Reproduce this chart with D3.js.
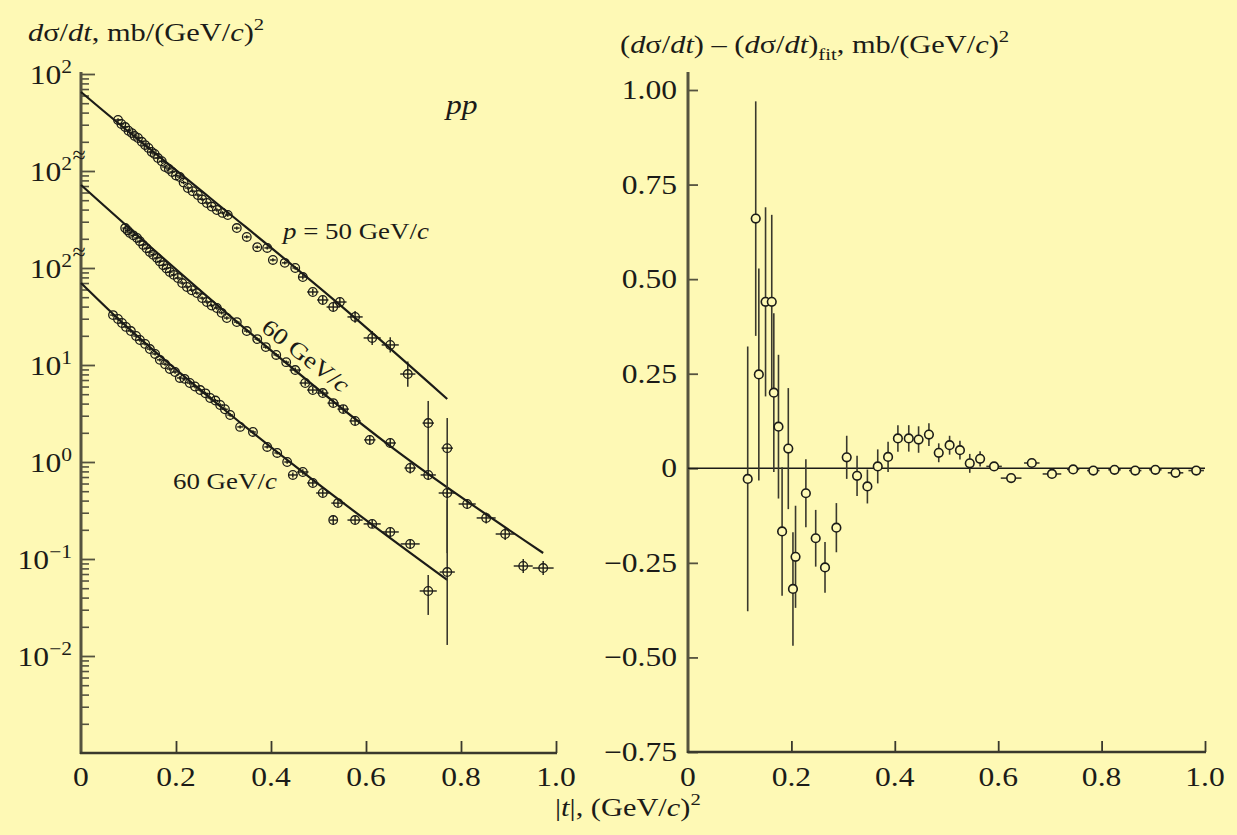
<!DOCTYPE html>
<html><head><meta charset="utf-8">
<script src="https://cdn.jsdelivr.net/npm/d3@7"></script>
<style>body{margin:0;background:#fef9b5;} svg{display:block}</style>
</head><body>
<svg id="c" width="1237" height="835"></svg>
<script>
// ---------------- DATA ----------------
// p = 50 GeV/c (plotted x100)
const topT = [0.078,0.085,0.093,0.100,0.107,0.113,0.120,0.128,0.135,0.142,0.149,0.155,0.162,0.170,0.177,0.185,0.192,0.200,0.208,0.216,0.225,0.235,0.246,0.255,0.265,0.275,0.286,0.298,0.309,0.328,0.349,0.371,0.392,0.404,0.429,0.451,0.467,0.488,0.509,0.531,0.545,0.577,0.613,0.651,0.688];
const topV = [33.6,30.5,28.4,26.0,24.6,23.0,21.9,20.0,18.5,17.3,15.7,15.0,13.6,12.6,11.0,10.5,9.77,9.0,8.67,7.6,6.68,6.2,5.66,5.1,4.68,4.3,3.96,3.70,3.52,2.58,2.09,1.64,1.61,1.21,1.13,1.00,0.807,0.566,0.468,0.396,0.446,0.313,0.190,0.161,0.0807];
const topErr = [0.04,0.04,0.04,0.04,0.04,0.04,0.04,0.04,0.04,0.04,0.04,0.04,0.04,0.04,0.04,0.04,0.04,0.04,0.04,0.04,0.04,0.04,0.04,0.04,0.04,0.04,0.04,0.04,0.04,0.04,0.04,0.04,0.04,0.04,0.04,0.04,0.06,0.08,0.10,0.10,0.12,0.15,0.18,0.20,0.35];
const topDt = [0.006,0.006,0.006,0.006,0.006,0.006,0.006,0.006,0.006,0.006,0.006,0.006,0.006,0.006,0.006,0.006,0.006,0.006,0.006,0.006,0.006,0.006,0.006,0.006,0.006,0.006,0.006,0.006,0.006,0.006,0.006,0.006,0.006,0.006,0.006,0.006,0.010,0.012,0.012,0.014,0.014,0.016,0.018,0.018,0.016];
// 60 GeV/c (plotted x10)
const midT = [0.093,0.098,0.103,0.110,0.118,0.124,0.131,0.138,0.145,0.152,0.160,0.166,0.173,0.180,0.187,0.195,0.204,0.213,0.223,0.233,0.244,0.255,0.265,0.275,0.286,0.296,0.307,0.328,0.349,0.371,0.389,0.411,0.432,0.451,0.472,0.488,0.509,0.531,0.552,0.577,0.608,0.651,0.693,0.731,0.731,0.771,0.771,0.813,0.853,0.893,0.931,0.973];
const midV = [25.8,24.4,23.0,21.7,20.4,18.9,17.3,16.0,14.6,13.7,12.7,11.7,10.7,9.9,9.10,8.5,7.89,7.0,6.37,5.9,5.52,4.9,4.46,4.1,3.87,3.45,3.05,2.77,2.24,1.85,1.53,1.27,1.07,0.887,0.652,0.552,0.514,0.405,0.351,0.265,0.169,0.157,0.0867,0.0735,0.252,0.139,0.0479,0.0369,0.0265,0.0181,0.00847,0.00807];
const midErr = [0.04,0.04,0.04,0.04,0.04,0.04,0.04,0.04,0.04,0.04,0.04,0.04,0.04,0.04,0.04,0.04,0.04,0.04,0.04,0.04,0.04,0.04,0.04,0.04,0.04,0.04,0.04,0.04,0.04,0.04,0.04,0.04,0.04,0.06,0.07,0.08,0.08,0.09,0.10,0.10,0.12,0.12,0.14,0.12,0,0,0.12,0.12,0.14,0.15,0.18,0.18];
const midDt = [0.006,0.006,0.006,0.006,0.006,0.006,0.006,0.006,0.006,0.006,0.006,0.006,0.006,0.006,0.006,0.006,0.006,0.006,0.006,0.006,0.006,0.006,0.006,0.006,0.006,0.006,0.006,0.006,0.006,0.006,0.006,0.006,0.006,0.012,0.012,0.012,0.012,0.012,0.012,0.012,0.012,0.012,0.012,0.016,0.012,0.012,0.018,0.018,0.020,0.020,0.020,0.022];
// 60 GeV/c (lower set, not shifted)
const botT = [0.0674,0.0779,0.0863,0.0947,0.105,0.116,0.124,0.135,0.145,0.156,0.166,0.177,0.187,0.198,0.208,0.218,0.229,0.240,0.251,0.262,0.272,0.283,0.293,0.303,0.314,0.335,0.362,0.392,0.413,0.434,0.446,0.467,0.488,0.509,0.531,0.541,0.577,0.613,0.651,0.693,0.731,0.771];
const botV = [32.7,29.8,27.1,24.7,22.4,19.9,18.1,16.5,14.6,13.0,11.3,10.2,9.10,8.47,7.35,7.2,6.52,6.0,5.52,5.1,4.57,4.3,3.87,3.5,3.05,2.30,2.04,1.43,1.24,1.00,0.735,0.789,0.608,0.479,0.252,0.377,0.252,0.230,0.190,0.143,0.0468,0.0734];
const botErr = [0.04,0.04,0.04,0.04,0.04,0.04,0.04,0.04,0.04,0.04,0.04,0.04,0.04,0.04,0.04,0.04,0.04,0.04,0.04,0.04,0.04,0.04,0.04,0.04,0.04,0.04,0.04,0.04,0.04,0.04,0.06,0.07,0.08,0.09,0.12,0.09,0.10,0.10,0.12,0.12,0,0];
const botDt = [0.006,0.006,0.006,0.006,0.006,0.006,0.006,0.006,0.006,0.006,0.006,0.006,0.006,0.006,0.006,0.006,0.006,0.006,0.006,0.006,0.006,0.006,0.006,0.006,0.006,0.006,0.006,0.006,0.006,0.006,0.010,0.012,0.012,0.014,0.008,0.014,0.016,0.018,0.018,0.020,0.018,0.016];
// long error bars (actual values)
const longBarCurve = ["mid","mid","bot","bot"];
const longBarT = [0.731,0.771,0.731,0.771];
const longBarLo = [0.0828,0.0115,0.0265,0.0130];
const longBarHi = [0.426,0.284,0.0684,0.405];
// fit curves (control points)
const topFitT = [0,0.04,0.272,0.545,0.771];
const topFitV = [65.2,44.6,5.27,0.416,0.0446];
const midFitT = [0,0.04,0.356,0.651,0.973];
const midFitV = [71.8,47.9,2.14,0.146,0.01153];
const botFitT = [0,0.0674,0.272,0.461,0.771];
const botFitV = [70.0,33.6,4.57,0.828,0.0608];
const shifts = {top:100, mid:10, bot:1};
// residuals (right panel)
const resT = [0.1155,0.131,0.137,0.150,0.162,0.166,0.175,0.182,0.194,0.203,0.208,0.228,0.247,0.265,0.287,0.307,0.327,0.347,0.367,0.387,0.406,0.427,0.446,0.466,0.485,0.506,0.526,0.545,0.565,0.592,0.625,0.665,0.704,0.745,0.784,0.825,0.865,0.904,0.943,0.983];
const resV = [-0.028,0.66,0.248,0.44,0.44,0.20,0.11,-0.167,0.052,-0.319,-0.234,-0.066,-0.185,-0.262,-0.157,0.029,-0.02,-0.048,0.005,0.03,0.079,0.079,0.076,0.089,0.041,0.061,0.048,0.013,0.025,0.005,-0.026,0.014,-0.015,-0.003,-0.006,-0.004,-0.006,-0.004,-0.012,-0.006];
const resErr = [0.35,0.31,0.28,0.25,0.23,0.21,0.19,0.17,0.16,0.15,0.135,0.09,0.075,0.067,0.065,0.057,0.053,0.045,0.045,0.04,0.035,0.035,0.035,0.03,0.025,0.025,0.025,0.025,0.02,0.01,0.01,0.01,0.01,0.008,0.008,0.008,0.008,0.008,0.008,0.008];
const resDt = [0,0,0,0,0,0,0,0,0,0,0,0,0,0,0,0,0,0,0,0,0,0,0,0,0,0,0,0,0,0.015,0.02,0.015,0.018,0.012,0.012,0.012,0.012,0.012,0.015,0.015];
// ticks
const xTicks = [0,0.2,0.4,0.6,0.8,1.0];
const xTickLabels = ["0","0.2","0.4","0.6","0.8","1.0"];
const leftMajor = [1e4,1e3,1e2,1e1,1,1e-1,1e-2];
const leftMajorExp = ["2","2","2","1","0","\u22121","\u22122"];
const leftSegments = [[2e3,1e4],[2e2,1e3],[1e-3,1e2]];
const rightTicks = [1.0,0.75,0.5,0.25,0,-0.25,-0.5,-0.75];
const rightTickLabels = ["1.00","0.75","0.50","0.25","0","\u22120.25","\u22120.50","\u22120.75"];

// ---------------- DRAW ----------------
const BG = "#fef9b5", INK = "#1c1c18", AX = "#55533f";
const SX = 1.17;
const FONT = "'Liberation Serif','Times New Roman',serif";
const svg = d3.select("#c");
svg.append("rect").attr("width",1237).attr("height",835).attr("fill",BG);

const xL = d3.scaleLinear().domain([0,1]).range([81,556]);
const yL = d3.scaleLog().domain([1e-3,1e4]).range([753,74]);
const xR = d3.scaleLinear().domain([0,1]).range([688,1205]);
const yR = d3.scaleLinear().domain([-0.75,1]).range([752,90]);

function label(x,y,anchor,size,parts,rot){
  const t = svg.append("text")
    .attr("transform",`translate(${x},${y})${rot?` rotate(${rot})`:""} scale(${SX},1)`)
    .attr("text-anchor",anchor).attr("font-family",FONT).attr("font-size",size).attr("fill",INK);
  let off = 0;
  parts.forEach(p=>{
    const [s,st] = Array.isArray(p)?p:[p,""];
    const ts = t.append("tspan").text(s);
    let target = 0, fs = size;
    if (st==="i") ts.attr("font-style","italic");
    if (st==="sup"){ target = -size*0.42; fs = size*0.68; }
    if (st==="sub"){ target = size*0.25; fs = size*0.68; }
    ts.attr("font-size",fs).attr("dy",target-off);
    off = target;
  });
  return t;
}

// ---- left axes ----
const minorTicks = [];
leftSegments.forEach(([a,b])=>{
  for(let d=Math.round(Math.log10(a)); d<Math.round(Math.log10(b)); d++){
    for(const m of [2,3,4,5,6,7,8,9]){ const v=m*Math.pow(10,d); if(v>=a*0.999 && v<b*0.999) minorTicks.push(v); }
  }
});
const gyl = svg.append("g").attr("transform","translate(81,0)")
  .call(d3.axisRight(yL).tickValues(minorTicks).tickSize(8).tickFormat(""));
gyl.select(".domain").remove();
gyl.selectAll("line").attr("stroke",AX).attr("stroke-width",1.6);
const gylM = svg.append("g").attr("transform","translate(81,0)")
  .call(d3.axisRight(yL).tickValues(leftMajor).tickSize(14).tickFormat(""));
gylM.select(".domain").remove();
gylM.selectAll("line").attr("stroke",AX).attr("stroke-width",1.8);
svg.append("line").attr("x1",81).attr("x2",81).attr("y1",72).attr("y2",754).attr("stroke",AX).attr("stroke-width",3);

const gxl = svg.append("g").attr("transform","translate(0,753)")
  .call(d3.axisBottom(xL).tickValues(xTicks.slice(1)).tickSizeInner(-12).tickSizeOuter(0).tickFormat(""));
gxl.select(".domain").remove();
gxl.selectAll("line").attr("stroke","#3a392d").attr("stroke-width",1.8);
svg.append("line").attr("x1",80).attr("x2",557).attr("y1",753).attr("y2",753).attr("stroke","#3a392d").attr("stroke-width",2.5);

xTicks.forEach((v,i)=>label(xL(v),786,"middle",27,[xTickLabels[i]]));
leftMajor.forEach((v,i)=>label(72,yL(v)+10,"end",27,["10",[leftMajorExp[i],"sup"]]));
// break marks
[Math.sqrt(2e3*1e3), Math.sqrt(2e2*1e2)].forEach(v=>{
  svg.append("text").attr("x",79).attr("y",yL(v)+7).attr("text-anchor","middle")
    .attr("font-family",FONT).attr("font-size",24).attr("fill",INK).text("\u2248");
});

// ---- right axes ----
const gyr = svg.append("g").attr("transform","translate(688,0)")
  .call(d3.axisRight(yR).tickValues(rightTicks).tickSize(10).tickFormat(""));
gyr.select(".domain").remove();
gyr.selectAll("line").attr("stroke",AX).attr("stroke-width",1.8);
svg.append("line").attr("x1",688).attr("x2",688).attr("y1",72).attr("y2",753).attr("stroke",AX).attr("stroke-width",3);
const gxr = svg.append("g").attr("transform","translate(0,752)")
  .call(d3.axisBottom(xR).tickValues(xTicks.slice(1)).tickSizeInner(-11).tickSizeOuter(0).tickFormat(""));
gxr.select(".domain").remove();
gxr.selectAll("line").attr("stroke","#3a392d").attr("stroke-width",1.8);
svg.append("line").attr("x1",687).attr("x2",1206).attr("y1",752).attr("y2",752).attr("stroke","#3a392d").attr("stroke-width",2.5);
xTicks.forEach((v,i)=>label(xR(v),786,"middle",27,[xTickLabels[i]]));
rightTicks.forEach((v,i)=>label(677,yR(v)+9,"end",27,[rightTickLabels[i]]));
svg.append("line").attr("x1",xR(0)).attr("x2",xR(1)).attr("y1",yR(0)).attr("y2",yR(0)).attr("stroke",INK).attr("stroke-width",1.6);

// ---- titles ----
label(28,41,"start",26,[["d","i"],"\u03c3/",["dt","i"],", mb/(GeV/",["c","i"],")",["2","sup"]]);
label(620,53,"start",26,["(",["d","i"],"\u03c3/",["dt","i"],") \u2013 (",["d","i"],"\u03c3/",["dt","i"],")",["fit","sub"],", mb/(GeV/",["c","i"],")",["2","sup"]]);
label(555,816,"start",26,["|",["t","i"],"|, (GeV/",["c","i"],")",["2","sup"]]);
label(446,114,"start",27,[["pp","i"]]);
label(283,239,"start",23,[["p","i"]," = 50 GeV/",["c","i"]]);
label(260,330,"start",23,["60 GeV/",["c","i"]],38);
label(173,489,"start",23,["60 GeV/",["c","i"]]);

// ---- fit curves ----
const fits = [[topFitT,topFitV,"top"],[midFitT,midFitV,"mid"],[botFitT,botFitV,"bot"]];
fits.forEach(([T,V,k])=>{
  const pts = T.map((t,i)=>[t,V[i]]);
  svg.append("path").datum(pts)
    .attr("d",d3.line().x(d=>xL(d[0])).y(d=>yL(d[1]*shifts[k])).curve(d3.curveMonotoneX))
    .attr("fill","none").attr("stroke",INK).attr("stroke-width",2.2);
});

// ---- long error bars ----
longBarT.forEach((t,i)=>{
  const s = shifts[longBarCurve[i]];
  svg.append("line").attr("x1",xL(t)).attr("x2",xL(t))
    .attr("y1",yL(longBarLo[i]*s)).attr("y2",yL(longBarHi[i]*s))
    .attr("stroke","#3a392d").attr("stroke-width",1.6);
});

// ---- left points ----
const sets = [[topT,topV,topErr,topDt,"top"],[midT,midV,midErr,midDt,"mid"],[botT,botV,botErr,botDt,"bot"]];
sets.forEach(([T,V,E,D,k])=>{
  const s = shifts[k];
  const data = T.map((t,i)=>({t, v:V[i]*s, e:E[i], dt:D[i]}));
  const g = svg.append("g");
  g.selectAll(".v").data(data.filter(d=>d.e>0)).join("line")
    .attr("x1",d=>xL(d.t)).attr("x2",d=>xL(d.t))
    .attr("y1",d=>yL(d.v*(1+d.e))).attr("y2",d=>yL(d.v/(1+d.e)))
    .attr("stroke",INK).attr("stroke-width",1.4);
  g.selectAll(".h").data(data).join("line")
    .attr("x1",d=>xL(d.t-d.dt)).attr("x2",d=>xL(d.t+d.dt))
    .attr("y1",d=>yL(d.v)).attr("y2",d=>yL(d.v))
    .attr("stroke",INK).attr("stroke-width",1.4);
  g.selectAll("circle").data(data).join("circle")
    .attr("cx",d=>xL(d.t)).attr("cy",d=>yL(d.v)).attr("r",4.3)
    .attr("fill","none").attr("stroke",INK).attr("stroke-width",1.3);
});

// ---- right points ----
const res = resT.map((t,i)=>({t, v:resV[i], e:resErr[i], dt:resDt[i]}));
const gr = svg.append("g");
gr.selectAll(".v").data(res).join("line")
  .attr("x1",d=>xR(d.t)).attr("x2",d=>xR(d.t))
  .attr("y1",d=>yR(d.v+d.e)).attr("y2",d=>yR(d.v-d.e))
  .attr("stroke","#3a392d").attr("stroke-width",1.6);
gr.selectAll(".h").data(res.filter(d=>d.dt>0)).join("line")
  .attr("x1",d=>xR(d.t-d.dt)).attr("x2",d=>xR(d.t+d.dt))
  .attr("y1",d=>yR(d.v)).attr("y2",d=>yR(d.v))
  .attr("stroke","#3a392d").attr("stroke-width",1.6);
gr.selectAll("circle").data(res).join("circle")
  .attr("cx",d=>xR(d.t)).attr("cy",d=>yR(d.v)).attr("r",4.3)
  .attr("fill",BG).attr("stroke",INK).attr("stroke-width",1.6);
</script>
</body></html>
